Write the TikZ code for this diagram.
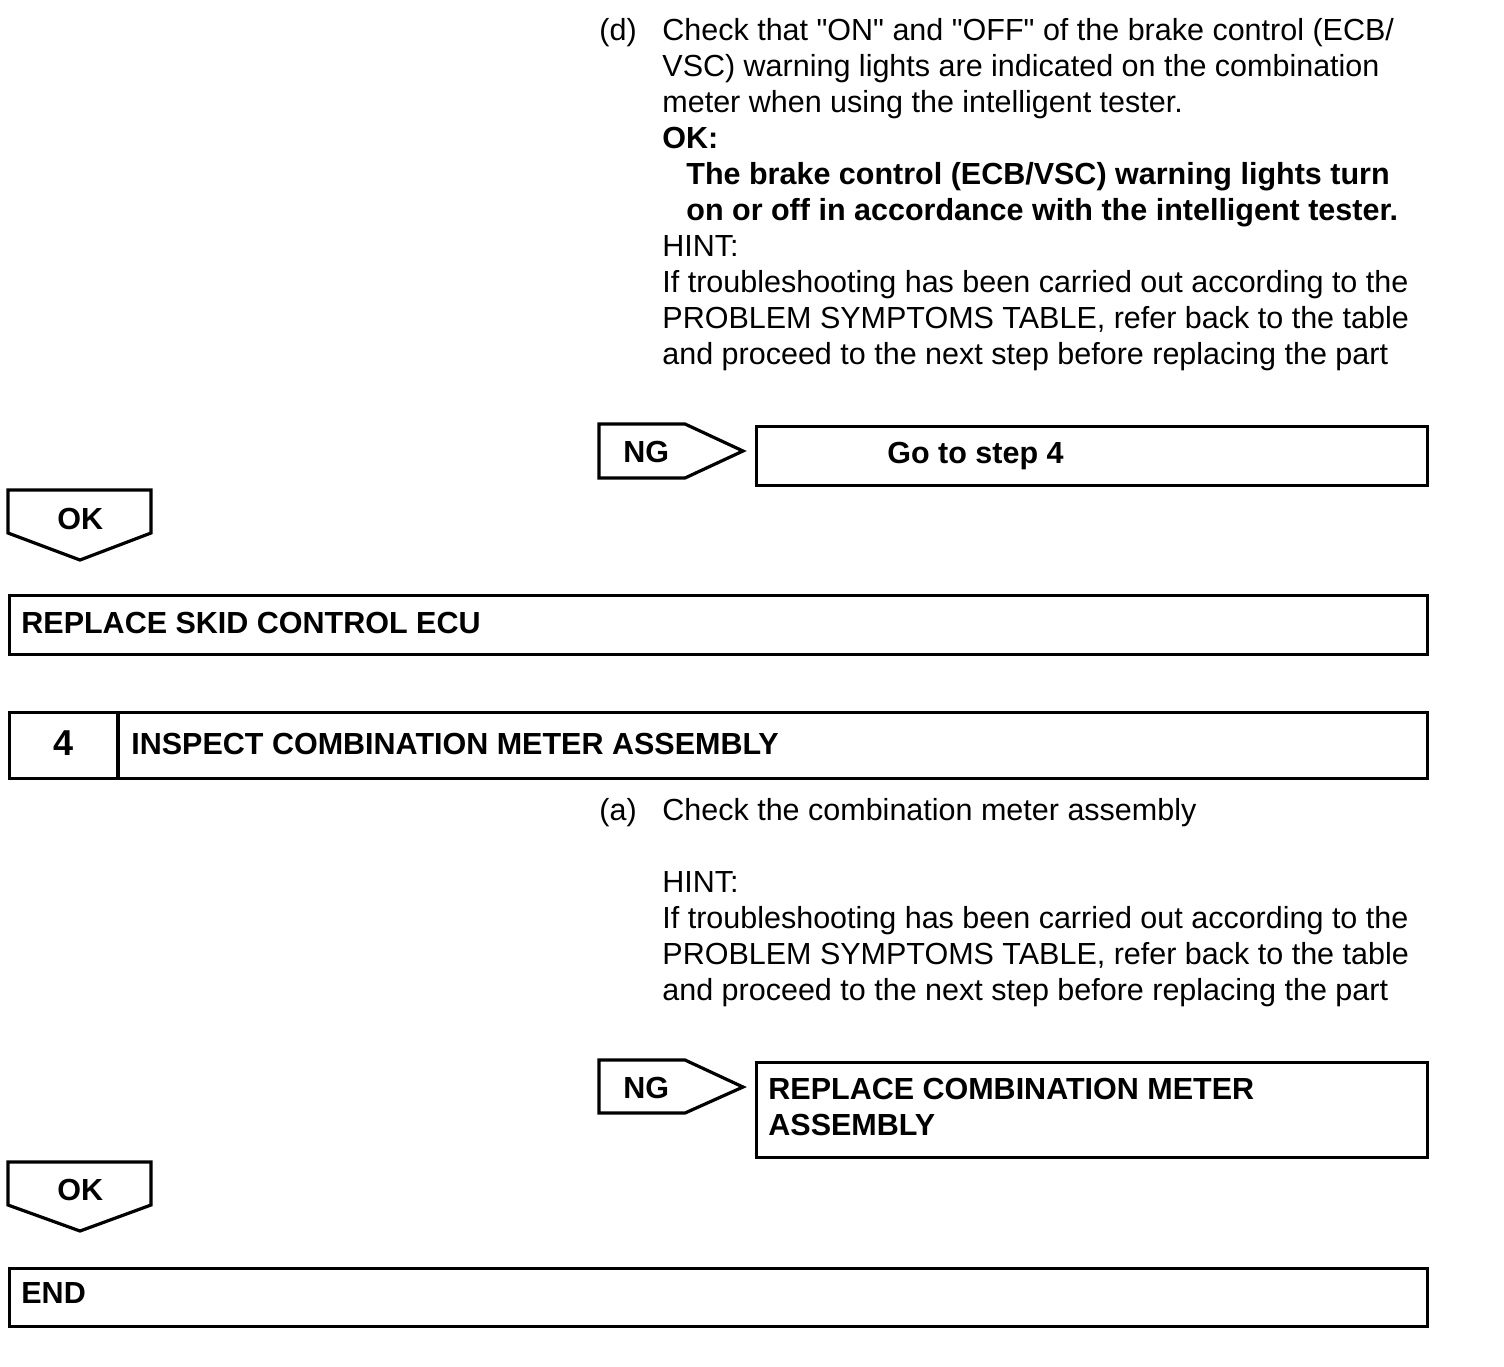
\documentclass[tikz,border=0pt]{standalone}
\usepackage{fontspec}
\setmainfont{Liberation Sans}[Ligatures=TeXOff]
\begin{document}
\begin{tikzpicture}[x=0.5pt,y=-0.5pt,
  txt/.style={anchor=base west,inner sep=0pt,font=\fontsize{15.25}{18}\selectfont},
  btxt/.style={txt,font=\fontsize{15.25}{18}\selectfont\bfseries},
  frame/.style={draw,line width=1.6pt},
  boxnode/.style={frame,anchor=north west,inner sep=0pt}]
\useasboundingbox (0,0) rectangle (1504,1366);
% step (d)
\node[txt] (dlab) at (599,40) {(d)};
\node[txt] (d1) at (662,40) {Check that "ON" and "OFF" of the brake control (ECB/};
\node[txt] (d2) at (662,76) {VSC) warning lights are indicated on the combination};
\node[txt] (d3) at (662,112) {meter when using the intelligent tester.};
\node[btxt] (d4) at (662,148) {OK:};
\node[btxt] (d5) at (686,184) {The brake control (ECB/VSC) warning lights turn};
\node[btxt] (d6) at (686,220) {on or off in accordance with the intelligent tester.};
\node[txt] (d7) at (662,256) {HINT:};
\node[txt] (d8) at (662,292) {If troubleshooting has been carried out according to the};
\node[txt] (d9) at (662,328) {PROBLEM SYMPTOMS TABLE, refer back to the table};
\node[txt] (d10) at (662,364) {and proceed to the next step before replacing the part};
% NG 1
\draw[frame,line join=miter] (599,424) -- (685,424) -- (743,451) -- (685,478) -- (599,478) -- cycle;
\node[btxt] (ng1) at (623,462) {NG};
\node[boxnode,minimum width=335.5pt,minimum height=29.5pt] (go4) at (755,425) {};
\node[btxt] (go4t) at (887,463) {Go to step 4};
% OK 1
\draw[frame,line join=miter] (8,490) -- (151,490) -- (151,533) -- (80,560) -- (8,533) -- cycle;
\node[btxt] (ok1) at (57,529) {OK};
% Replace skid control ECU
\node[boxnode,minimum width=709pt,minimum height=29.5pt] (skid) at (8,594) {};
\node[btxt] (skidt) at (21,633) {REPLACE SKID CONTROL ECU};
% Step 4
\node[boxnode,minimum width=709pt,minimum height=33pt] (s4) at (8,711) {};
\draw[frame] (118,711) -- (118,777);
\node[btxt,font=\fontsize{18}{18}\selectfont\bfseries] (s4n) at (53,755) {4};
\node[btxt] (s4t) at (131,754) {INSPECT COMBINATION METER ASSEMBLY};
% step (a)
\node[txt] (alab) at (599,820) {(a)};
\node[txt] (a1) at (662,820) {Check the combination meter assembly};
\node[txt] (a2) at (662,892) {HINT:};
\node[txt] (a3) at (662,928) {If troubleshooting has been carried out according to the};
\node[txt] (a4) at (662,964) {PROBLEM SYMPTOMS TABLE, refer back to the table};
\node[txt] (a5) at (662,1000) {and proceed to the next step before replacing the part};
% NG 2
\draw[frame,line join=miter] (599,1060) -- (685,1060) -- (743,1087) -- (685,1113) -- (599,1113) -- cycle;
\node[btxt] (ng2) at (623,1098) {NG};
\node[boxnode,minimum width=335.5pt,minimum height=47.5pt] (rcm) at (755,1061) {};
\node[btxt] (rcm1) at (768,1099) {REPLACE COMBINATION METER};
\node[btxt] (rcm2) at (768,1135) {ASSEMBLY};
% OK 2
\draw[frame,line join=miter] (8,1162) -- (151,1162) -- (151,1205) -- (80,1231) -- (8,1205) -- cycle;
\node[btxt] (ok2) at (57,1200) {OK};
% END
\node[boxnode,minimum width=709pt,minimum height=29pt] (endb) at (8,1267) {};
\node[btxt] (endt) at (21,1303) {END};
\end{tikzpicture}
\end{document}
